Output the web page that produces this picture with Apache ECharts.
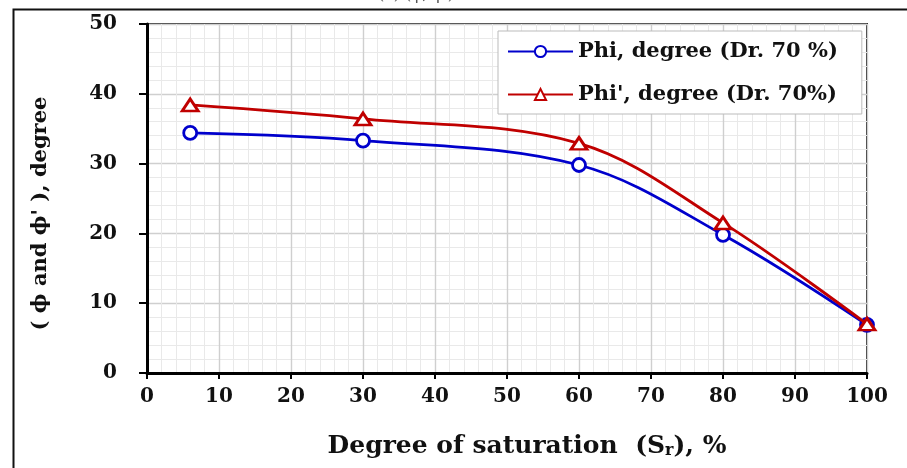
<!DOCTYPE html>
<html><head><meta charset="utf-8">
<script src="https://cdn.jsdelivr.net/npm/echarts@6/dist/echarts.min.js"></script>
<style>html,body{margin:0;padding:0;background:#fff}#c{width:907px;height:468px}</style>
</head><body><div id="c"></div>
<script>
const saturation = [6, 30, 60, 80, 100];
const phi = [34.4, 33.3, 29.8, 19.8, 6.9];
const phiPrime = [38.4, 36.4, 32.9, 21.5, 7.0];
const xTicks = [0, 10, 20, 30, 40, 50, 60, 70, 80, 90, 100];
const yTicks = [0, 10, 20, 30, 40, 50];
const seriesNames = ["Phi, degree (Dr. 70 %)", "Phi', degree (Dr. 70%)"];

const FONT = '"DejaVu Serif", serif';
const chart = echarts.init(document.getElementById('c'), null, {renderer: 'canvas'});
const pairs = (xs, ys) => xs.map((x, i) => [x, ys[i]]);

chart.setOption({
  animation: false,
  backgroundColor: '#fff',
  graphic: [
    {type: 'rect', left: 11, top: 7, shape: {x: 0, y: 0, width: 1000, height: 1000},
     style: {fill: 'none', stroke: '#111', lineWidth: 2}, z: -10},
    {type: 'text', left: 378, top: -13,
     style: {text: "(a) (ϕ, ϕ') curves", font: '16px ' + FONT, fill: '#555'}}
  ],
  grid: {left: 147, right: 40, top: 24, bottom: 95, show: true,
         borderColor: '#333', borderWidth: 2, backgroundColor: '#fff'},
  legend: {
    orient: 'vertical', left: 498, top: 31,
    backgroundColor: '#fff', borderColor: '#bbb', borderWidth: 1,
    padding: [10, 24, 9, 9], itemGap: 22, itemWidth: 65, itemHeight: 14,
    textStyle: {fontFamily: FONT, fontWeight: 'bold', fontSize: 21, color: '#111'},
    data: seriesNames
  },
  xAxis: {
    type: 'value', min: 0, max: 100, interval: 10,
    axisLine: {show: true, onZero: false, lineStyle: {color: '#000', width: 3}},
    axisTick: {show: true, length: 6, lineStyle: {color: '#000', width: 2}},
    minorTick: {show: false, splitNumber: 5},
    splitLine: {show: true, lineStyle: {color: '#cfcfcf', width: 1.4}},
    minorSplitLine: {show: true, lineStyle: {color: '#e9e9e9', width: 1}},
    axisLabel: {margin: 14, fontFamily: FONT, fontWeight: 'bold', fontSize: 20, color: '#111',
                customValues: xTicks},
    name: 'Degree of saturation  (S{sub|r}), %',
    nameLocation: 'middle', nameGap: 60,
    nameTextStyle: {fontFamily: FONT, fontWeight: 'bold', fontSize: 25, color: '#111',
      padding: [0, 0, 0, 40],
      rich: {sub: {fontFamily: FONT, fontWeight: 'bold', fontSize: 16, color: '#111', verticalAlign: 'bottom', padding: [10, 0, 0, 0]}}}
  },
  yAxis: {
    type: 'value', min: 0, max: 50, interval: 10,
    axisLine: {show: true, onZero: false, lineStyle: {color: '#000', width: 3}},
    axisTick: {show: true, length: 8, lineStyle: {color: '#000', width: 2}},
    minorTick: {show: false, splitNumber: 5},
    splitLine: {show: true, lineStyle: {color: '#cfcfcf', width: 1.4}},
    minorSplitLine: {show: true, lineStyle: {color: '#e9e9e9', width: 1}},
    axisLabel: {margin: 30, fontFamily: FONT, fontWeight: 'bold', fontSize: 20, color: '#111',
                customValues: yTicks},
    name: "( ϕ and ϕ' ), degree",
    nameLocation: 'middle', nameGap: 96,
    nameTextStyle: {fontFamily: FONT, fontWeight: 'bold', fontSize: 21, color: '#111',
      padding: [0, 30, 0, 0]}
  },
  series: [
    {name: seriesNames[0], type: 'line', smooth: 0.35, data: pairs(saturation, phi),
     symbol: 'circle', symbolSize: 13,
     lineStyle: {color: '#0000CC', width: 2.8},
     itemStyle: {color: '#fff', borderColor: '#0000CC', borderWidth: 2.8}, z: 2},
    {name: seriesNames[1], type: 'line', smooth: 0.35, data: pairs(saturation, phiPrime),
     symbol: 'triangle', symbolSize: [16, 12],
     lineStyle: {color: '#C00000', width: 2.8},
     itemStyle: {color: '#fff', borderColor: '#C00000', borderWidth: 2.8}, z: 3}
  ]
});
</script></body></html>
